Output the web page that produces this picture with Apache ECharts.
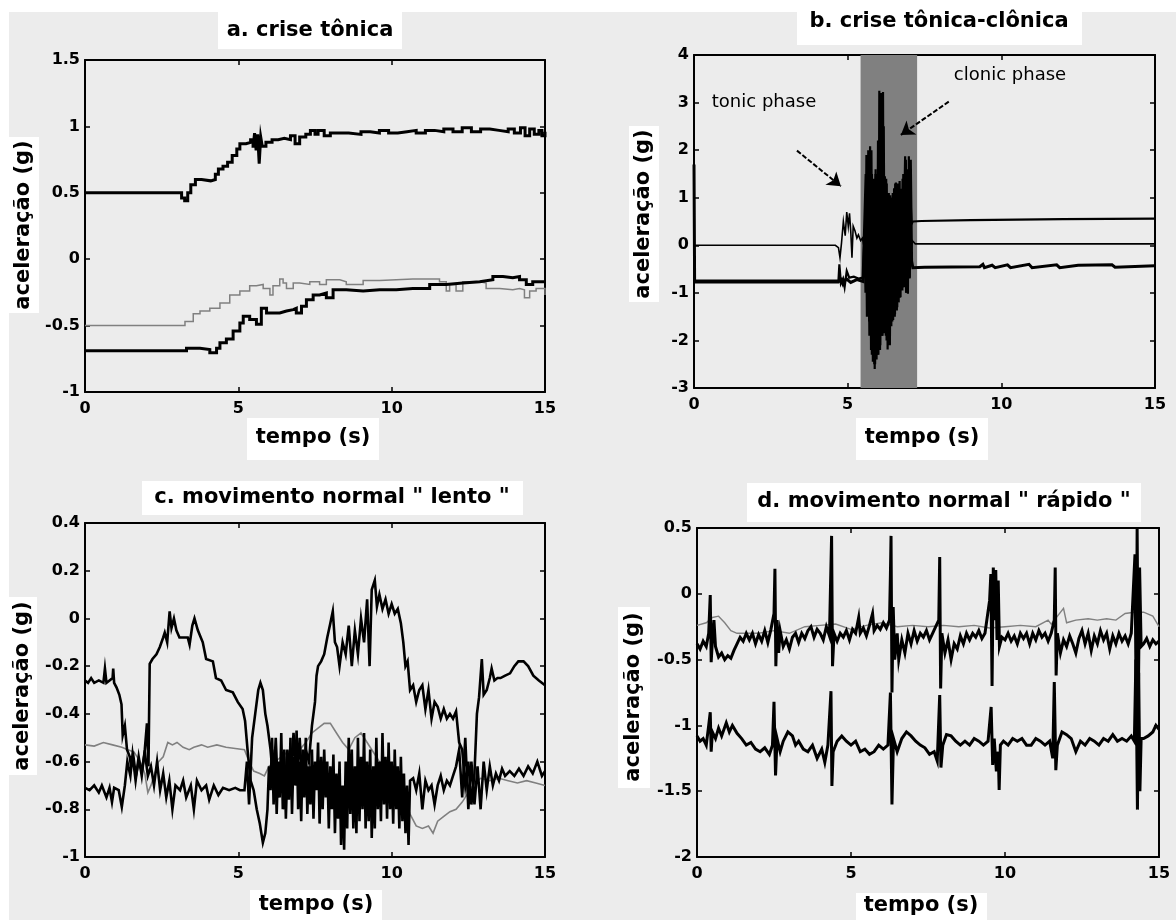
<!DOCTYPE html>
<html>
<head>
<meta charset="utf-8">
<script src="https://cdn.jsdelivr.net/npm/echarts/dist/echarts.min.js"></script>
<style>html,body{margin:0;padding:0;background:#fff}#c{width:1176px;height:920px}</style>
</head>
<body>
<div id="c"></div>
<script>
// ---------- tick labels ----------
const xTicks = [0, 5, 10, 15];
const yTicksA = [-1, -0.5, 0, 0.5, 1, 1.5];
const yTicksB = [-3, -2, -1, 0, 1, 2, 3, 4];
const yTicksC = [-1, -0.8, -0.6, -0.4, -0.2, 0, 0.2, 0.4];
const yTicksD = [-2, -1.5, -1, -0.5, 0, 0.5];

// ---------- texts ----------
const titles = ['a. crise tônica', 'b. crise tônica-clônica', 'c. movimento normal " lento "', 'd. movimento normal " rápido "'];
const xName = 'tempo (s)';
const yName = 'aceleração (g)';
const annTonic = 'tonic phase';
const annClonic = 'clonic phase';

// ---------- panel a: [tempo, aceleração] ----------
const aTop = [[0,0.5],[1.5,0.5],[3.05,0.5],[3.15,0.46],[3.25,0.44],[3.35,0.5],[3.45,0.56],[3.6,0.6],[3.8,0.59],[4.1,0.6],[4.25,0.64],[4.35,0.68],[4.5,0.7],[4.65,0.73],[4.8,0.78],[4.95,0.83],[5.05,0.87],[5.25,0.88],[5.4,0.9],[5.48,0.84],[5.53,0.95],[5.58,0.82],[5.63,0.94],[5.68,0.72],[5.73,0.92],[5.78,0.85],[5.9,0.88],[6.1,0.9],[6.3,0.91],[6.5,0.9],[6.7,0.93],[6.85,0.87],[7.0,0.92],[7.2,0.94],[7.35,0.97],[7.5,0.94],[7.6,0.97],[7.8,0.93],[8.0,0.95],[8.3,0.95],[8.6,0.94],[9.0,0.96],[9.3,0.95],[9.6,0.97],[9.9,0.95],[10.2,0.96],[10.5,0.97],[10.8,0.95],[11.1,0.97],[11.4,0.96],[11.7,0.98],[12.0,0.96],[12.3,0.99],[12.6,0.96],[12.9,0.98],[13.2,0.97],[13.5,0.96],[13.8,0.98],[14.0,0.95],[14.2,0.99],[14.35,0.93],[14.5,0.98],[14.65,0.94],[14.8,0.97],[14.9,0.93],[15,0.96]];
const aMid = [[0,-0.5],[3.1,-0.5],[3.26,-0.47],[3.53,-0.41],[3.75,-0.39],[4.07,-0.37],[4.4,-0.33],[4.72,-0.27],[5.05,-0.24],[5.37,-0.2],[5.59,-0.19],[5.81,-0.22],[6.03,-0.27],[6.13,-0.2],[6.35,-0.15],[6.46,-0.18],[6.57,-0.22],[6.79,-0.18],[7.0,-0.19],[7.33,-0.17],[7.65,-0.19],[7.87,-0.155],[8.31,-0.17],[8.52,-0.19],[9.07,-0.16],[9.61,-0.155],[10.15,-0.15],[10.69,-0.15],[11.24,-0.15],[11.56,-0.17],[11.78,-0.24],[11.89,-0.19],[12.1,-0.24],[12.32,-0.17],[12.87,-0.18],[13.08,-0.22],[13.52,-0.23],[13.95,-0.22],[14.17,-0.23],[14.33,-0.29],[14.5,-0.24],[14.71,-0.22],[15,-0.27]];
const aLow = [[0,-0.69],[3.1,-0.69],[3.31,-0.67],[3.75,-0.68],[4.07,-0.705],[4.29,-0.67],[4.4,-0.63],[4.61,-0.6],[4.83,-0.54],[5.05,-0.48],[5.16,-0.43],[5.37,-0.455],[5.59,-0.49],[5.75,-0.37],[5.92,-0.405],[6.13,-0.405],[6.35,-0.39],[6.57,-0.38],[6.79,-0.37],[6.89,-0.405],[7.06,-0.355],[7.22,-0.305],[7.44,-0.27],[7.65,-0.255],[7.87,-0.29],[8.09,-0.23],[8.52,-0.24],[9.07,-0.23],[9.61,-0.23],[10.15,-0.22],[10.69,-0.22],[11.24,-0.19],[11.78,-0.18],[12.32,-0.17],[12.87,-0.155],[13.3,-0.13],[13.63,-0.14],[13.95,-0.13],[14.17,-0.155],[14.39,-0.19],[14.6,-0.17],[15,-0.175]];

// ---------- panel b ----------
const bShade = [5.42, 7.26];
const bArrowTonic = [[3.35, 1.99], [4.78, 1.24]];
const bArrowClonic = [[8.29, 3.02], [6.73, 2.32]];
const bZero = [[0,0],[4.6,0],[4.7,-0.05],[4.75,-0.26],[4.8,0.05],[4.86,0.5],[4.92,0.2],[4.97,0.7],[5.02,0.4],[5.06,0.67],[5.1,0.3],[5.14,-0.26],[5.18,0.4],[5.24,0.3],[5.3,0.15],[5.35,0.22],[5.42,0.1],[5.48,0.15],[5.52,0.01],[5.56,0.2],[5.62,-0.5],[5.68,0.8],[5.74,-0.9],[5.8,1.0],[5.86,-1.2],[5.92,0.9],[5.98,-1.0],[6.04,1.5],[6.1,-1.2],[6.16,1.3],[6.22,-1.0],[6.28,0.9],[6.34,-1.1],[6.4,0.8],[6.46,-0.9],[6.52,0.9],[6.58,-0.8],[6.64,1.0],[6.7,-0.7],[6.76,0.9],[6.82,-0.6],[6.88,1.2],[6.94,-0.5],[7.0,1.0],[7.06,-0.2],[7.1,0.1],[7.2,0.03],[9,0.03],[12,0.03],[15,0.03]];
const bHigh = [[0,-0.74],[4.7,-0.74],[4.73,-0.4],[4.78,-0.8],[4.85,-0.7],[4.9,-0.88],[4.97,-0.54],[5.05,-0.68],[5.2,-0.66],[5.35,-0.7],[5.5,-0.68],[5.55,0.3],[5.58,-1.0],[5.61,1.9],[5.64,-1.3],[5.67,2.0],[5.7,-1.6],[5.73,2.08],[5.76,-2.2],[5.79,1.5],[5.82,-2.45],[5.85,1.4],[5.88,-2.6],[5.91,1.6],[5.94,-2.4],[5.97,1.2],[6.0,-2.3],[6.03,3.25],[6.06,-2.1],[6.09,3.2],[6.12,-1.9],[6.15,3.22],[6.18,-1.85],[6.21,1.45],[6.24,-1.9],[6.27,1.3],[6.3,-2.19],[6.33,1.1],[6.36,-1.95],[6.39,1.05],[6.42,-1.7],[6.45,1.0],[6.48,-1.57],[6.51,1.2],[6.54,-1.45],[6.57,1.32],[6.6,-1.37],[6.63,1.3],[6.66,-1.2],[6.69,1.35],[6.72,-1.09],[6.75,1.19],[6.78,-0.95],[6.81,1.5],[6.84,-0.88],[6.87,1.87],[6.9,-1.0],[6.93,1.6],[6.96,-1.02],[6.99,1.87],[7.02,-0.68],[7.05,0.9],[7.08,0.45],[7.12,0.5],[7.4,0.51],[9,0.53],[12,0.55],[15,0.56]];
const bLow = [[0,1.7],[0.02,-0.77],[4.7,-0.77],[4.78,-0.72],[4.85,-0.82],[4.95,-0.7],[5.1,-0.78],[5.3,-0.72],[5.5,-0.76],[5.56,-0.8],[5.6,1.5],[5.64,-1.5],[5.68,1.8],[5.72,-1.9],[5.76,2.0],[5.8,-2.3],[5.84,1.3],[5.88,-2.5],[5.92,1.5],[5.96,-2.3],[6.0,2.2],[6.04,-2.2],[6.08,3.0],[6.12,-1.9],[6.16,2.5],[6.2,-1.8],[6.24,1.4],[6.28,-2.0],[6.32,1.1],[6.36,-2.1],[6.4,1.0],[6.44,-1.6],[6.48,1.1],[6.52,-1.5],[6.56,1.3],[6.6,-1.3],[6.64,1.2],[6.68,-1.1],[6.72,1.1],[6.76,-0.9],[6.8,1.4],[6.84,-0.85],[6.88,1.8],[6.92,-1.0],[6.96,1.5],[7.0,-0.7],[7.04,1.8],[7.08,-0.33],[7.12,-0.47],[7.5,-0.46],[9.3,-0.45],[9.4,-0.4],[9.45,-0.47],[9.7,-0.42],[9.8,-0.47],[10.2,-0.41],[10.3,-0.47],[10.9,-0.4],[11.0,-0.47],[11.8,-0.41],[11.9,-0.47],[12.5,-0.42],[13.6,-0.41],[13.7,-0.46],[15,-0.43]];

// ---------- panel c ----------
const cTop = [[0,-0.26],[0.1,-0.27],[0.2,-0.25],[0.3,-0.27],[0.45,-0.26],[0.6,-0.27],[0.65,-0.21],[0.7,-0.27],[0.8,-0.26],[0.9,-0.25],[0.92,-0.21],[0.95,-0.27],[1.03,-0.29],[1.12,-0.32],[1.19,-0.36],[1.23,-0.49],[1.3,-0.45],[1.37,-0.55],[1.46,-0.58],[1.5,-0.62],[1.58,-0.58],[1.66,-0.66],[1.75,-0.6],[1.85,-0.64],[1.95,-0.56],[2.05,-0.66],[2.15,-0.62],[2.25,-0.7],[2.35,-0.6],[2.45,-0.72],[2.55,-0.65],[2.65,-0.75],[2.75,-0.68],[2.85,-0.8],[2.95,-0.7],[3.1,-0.72],[3.2,-0.68],[3.3,-0.75],[3.45,-0.7],[3.55,-0.8],[3.65,-0.68],[3.8,-0.72],[3.95,-0.7],[4.05,-0.76],[4.2,-0.7],[4.35,-0.74],[4.5,-0.71],[4.7,-0.72],[4.9,-0.71],[5.05,-0.72],[5.2,-0.72],[5.28,-0.6],[5.35,-0.78],[5.45,-0.5],[5.55,-0.4],[5.65,-0.3],[5.72,-0.27],[5.8,-0.3],[5.88,-0.4],[5.95,-0.45],[6.05,-0.55],[6.15,-0.7],[6.22,-0.5],[6.3,-0.75],[6.4,-0.6],[6.5,-0.8],[6.6,-0.55],[6.7,-0.7],[6.8,-0.48],[6.9,-0.7],[7.0,-0.5],[7.1,-0.72],[7.2,-0.55],[7.3,-0.6],[7.4,-0.45],[7.5,-0.35],[7.55,-0.24],[7.6,-0.2],[7.7,-0.18],[7.8,-0.15],[7.9,-0.08],[8.0,-0.02],[8.08,0.03],[8.15,-0.1],[8.22,-0.12],[8.3,-0.2],[8.4,-0.1],[8.5,-0.15],[8.6,-0.03],[8.7,-0.2],[8.8,-0.05],[8.9,-0.15],[9.0,0.0],[9.1,-0.1],[9.2,0.08],[9.28,-0.2],[9.35,0.12],[9.45,0.16],[9.52,0.05],[9.6,0.1],[9.7,0.04],[9.8,0.08],[9.9,0.02],[10.0,0.06],[10.1,0.02],[10.2,0.04],[10.3,-0.02],[10.38,-0.1],[10.45,-0.2],[10.52,-0.18],[10.6,-0.3],[10.7,-0.28],[10.8,-0.35],[10.9,-0.3],[11.0,-0.28],[11.1,-0.38],[11.2,-0.3],[11.3,-0.42],[11.4,-0.35],[11.5,-0.37],[11.6,-0.42],[11.7,-0.38],[11.8,-0.42],[11.9,-0.4],[12.0,-0.42],[12.1,-0.39],[12.2,-0.52],[12.3,-0.55],[12.4,-0.7],[12.5,-0.6],[12.6,-0.78],[12.7,-0.65],[12.78,-0.4],[12.85,-0.33],[12.94,-0.17],[13.0,-0.32],[13.1,-0.3],[13.2,-0.25],[13.26,-0.21],[13.35,-0.26],[13.45,-0.25],[13.55,-0.25],[13.7,-0.24],[13.86,-0.23],[14.0,-0.2],[14.13,-0.18],[14.3,-0.18],[14.45,-0.2],[14.62,-0.24],[14.8,-0.26],[15,-0.28]];
const cMid = [[0,-0.53],[0.3,-0.535],[0.6,-0.52],[0.9,-0.53],[1.2,-0.54],[1.4,-0.55],[1.6,-0.56],[1.8,-0.6],[1.95,-0.65],[2.05,-0.73],[2.15,-0.7],[2.25,-0.66],[2.4,-0.6],[2.55,-0.58],[2.7,-0.52],[2.85,-0.53],[3.0,-0.52],[3.2,-0.54],[3.4,-0.55],[3.55,-0.54],[3.8,-0.53],[4.0,-0.54],[4.3,-0.53],[4.6,-0.54],[4.9,-0.545],[5.2,-0.55],[5.35,-0.6],[5.5,-0.64],[5.7,-0.65],[5.85,-0.66],[6.0,-0.62],[6.2,-0.6],[6.4,-0.58],[6.6,-0.56],[6.8,-0.55],[7.0,-0.55],[7.2,-0.52],[7.4,-0.48],[7.6,-0.46],[7.8,-0.44],[8.0,-0.44],[8.2,-0.48],[8.4,-0.52],[8.6,-0.55],[8.8,-0.5],[9.0,-0.48],[9.2,-0.52],[9.4,-0.56],[9.6,-0.6],[9.8,-0.62],[10.0,-0.65],[10.2,-0.68],[10.4,-0.75],[10.6,-0.82],[10.8,-0.87],[11.0,-0.88],[11.2,-0.87],[11.35,-0.9],[11.5,-0.85],[11.7,-0.83],[11.9,-0.81],[12.1,-0.8],[12.3,-0.77],[12.5,-0.73],[12.7,-0.69],[12.9,-0.67],[13.2,-0.68],[13.5,-0.67],[13.8,-0.68],[14.1,-0.69],[14.4,-0.68],[14.7,-0.69],[15,-0.7]];
const cLow = [[0,-0.71],[0.15,-0.72],[0.3,-0.7],[0.45,-0.73],[0.55,-0.7],[0.7,-0.75],[0.8,-0.71],[0.88,-0.77],[0.95,-0.71],[1.1,-0.72],[1.2,-0.79],[1.3,-0.7],[1.38,-0.6],[1.48,-0.66],[1.55,-0.57],[1.65,-0.68],[1.75,-0.58],[1.85,-0.66],[1.95,-0.55],[2.02,-0.44],[2.07,-0.62],[2.11,-0.19],[2.2,-0.17],[2.33,-0.15],[2.44,-0.12],[2.55,-0.08],[2.6,-0.06],[2.68,-0.1],[2.76,0.03],[2.82,-0.04],[2.9,0.0],[2.98,-0.05],[3.08,-0.08],[3.2,-0.08],[3.35,-0.08],[3.41,-0.11],[3.5,-0.03],[3.57,0.0],[3.68,-0.05],[3.84,-0.1],[3.95,-0.17],[4.17,-0.18],[4.27,-0.25],[4.44,-0.26],[4.6,-0.3],[4.82,-0.31],[4.98,-0.35],[5.14,-0.38],[5.22,-0.43],[5.3,-0.55],[5.4,-0.68],[5.5,-0.72],[5.6,-0.8],[5.7,-0.86],[5.8,-0.94],[5.88,-0.9],[5.95,-0.8],[6.0,-0.62],[6.05,-0.72],[6.1,-0.5],[6.15,-0.78],[6.2,-0.55],[6.25,-0.82],[6.3,-0.6],[6.35,-0.75],[6.4,-0.48],[6.45,-0.8],[6.5,-0.55],[6.55,-0.84],[6.6,-0.62],[6.65,-0.76],[6.7,-0.5],[6.75,-0.82],[6.8,-0.58],[6.85,-0.7],[6.9,-0.47],[6.95,-0.8],[7.0,-0.6],[7.05,-0.85],[7.1,-0.55],[7.15,-0.75],[7.2,-0.5],[7.25,-0.82],[7.3,-0.62],[7.35,-0.78],[7.4,-0.55],[7.45,-0.84],[7.5,-0.6],[7.55,-0.72],[7.6,-0.52],[7.65,-0.86],[7.7,-0.58],[7.75,-0.8],[7.8,-0.55],[7.85,-0.75],[7.9,-0.6],[7.95,-0.88],[8.0,-0.62],[8.05,-0.8],[8.1,-0.57],[8.15,-0.9],[8.2,-0.65],[8.25,-0.84],[8.3,-0.6],[8.35,-0.95],[8.4,-0.7],[8.45,-0.97],[8.5,-0.6],[8.55,-0.88],[8.6,-0.5],[8.65,-0.82],[8.7,-0.55],[8.75,-0.88],[8.8,-0.62],[8.85,-0.9],[8.9,-0.5],[8.95,-0.85],[9.0,-0.58],[9.05,-0.8],[9.1,-0.48],[9.15,-0.88],[9.2,-0.6],[9.25,-0.85],[9.3,-0.55],[9.35,-0.92],[9.4,-0.62],[9.45,-0.88],[9.5,-0.5],[9.55,-0.8],[9.6,-0.6],[9.65,-0.85],[9.7,-0.48],[9.75,-0.78],[9.8,-0.58],[9.85,-0.84],[9.9,-0.52],[9.95,-0.8],[10.0,-0.6],[10.05,-0.86],[10.1,-0.55],[10.15,-0.8],[10.2,-0.62],[10.25,-0.88],[10.3,-0.58],[10.35,-0.85],[10.4,-0.65],[10.45,-0.9],[10.5,-0.7],[10.55,-0.95],[10.6,-0.68],[10.7,-0.67],[10.8,-0.72],[10.9,-0.65],[11.0,-0.8],[11.1,-0.68],[11.2,-0.72],[11.3,-0.7],[11.4,-0.78],[11.5,-0.7],[11.6,-0.66],[11.7,-0.72],[11.8,-0.68],[11.9,-0.7],[12.0,-0.66],[12.1,-0.62],[12.2,-0.55],[12.3,-0.75],[12.4,-0.5],[12.5,-0.8],[12.6,-0.6],[12.7,-0.78],[12.8,-0.62],[12.9,-0.8],[13.0,-0.6],[13.1,-0.72],[13.2,-0.62],[13.3,-0.7],[13.4,-0.65],[13.5,-0.68],[13.6,-0.63],[13.7,-0.66],[13.85,-0.64],[14.0,-0.66],[14.15,-0.63],[14.3,-0.66],[14.45,-0.62],[14.6,-0.65],[14.75,-0.6],[14.9,-0.66],[15,-0.64]];

// ---------- panel d ----------
const dGray = [[0,-0.24],[0.3,-0.22],[0.5,-0.18],[0.7,-0.17],[0.9,-0.22],[1.1,-0.28],[1.3,-0.3],[1.6,-0.3],[2.0,-0.3],[2.5,-0.28],[3.0,-0.3],[3.5,-0.25],[4.0,-0.24],[4.5,-0.23],[5.0,-0.27],[5.5,-0.24],[6.0,-0.22],[6.5,-0.25],[7.0,-0.24],[7.5,-0.25],[8.0,-0.24],[8.5,-0.25],[9.0,-0.24],[9.5,-0.26],[10.0,-0.25],[10.5,-0.24],[11.0,-0.25],[11.4,-0.2],[11.5,-0.23],[11.9,-0.11],[12.0,-0.22],[12.3,-0.2],[12.7,-0.19],[13.0,-0.2],[13.3,-0.19],[13.6,-0.2],[13.9,-0.15],[14.2,-0.14],[14.5,-0.14],[14.8,-0.17],[15,-0.25]];
const dUp = [[0,-0.38],[0.1,-0.42],[0.2,-0.36],[0.3,-0.4],[0.38,-0.3],[0.43,-0.01],[0.46,-0.52],[0.5,-0.35],[0.55,-0.2],[0.6,-0.4],[0.7,-0.48],[0.8,-0.45],[0.9,-0.5],[1.0,-0.47],[1.1,-0.49],[1.2,-0.43],[1.3,-0.38],[1.4,-0.33],[1.5,-0.36],[1.6,-0.3],[1.7,-0.35],[1.8,-0.3],[1.9,-0.38],[2.0,-0.31],[2.1,-0.36],[2.2,-0.28],[2.3,-0.37],[2.4,-0.27],[2.5,-0.15],[2.53,0.19],[2.56,-0.55],[2.6,-0.2],[2.65,-0.45],[2.7,-0.28],[2.8,-0.4],[2.9,-0.35],[3.0,-0.42],[3.1,-0.33],[3.2,-0.3],[3.3,-0.37],[3.4,-0.3],[3.5,-0.34],[3.6,-0.28],[3.7,-0.25],[3.8,-0.33],[3.9,-0.27],[4.0,-0.3],[4.1,-0.35],[4.2,-0.25],[4.3,-0.32],[4.37,0.44],[4.4,-0.55],[4.45,-0.3],[4.55,-0.36],[4.65,-0.3],[4.75,-0.33],[4.85,-0.28],[4.95,-0.35],[5.05,-0.27],[5.15,-0.3],[5.25,-0.18],[5.3,-0.3],[5.4,-0.26],[5.5,-0.32],[5.6,-0.24],[5.7,-0.15],[5.75,-0.28],[5.85,-0.24],[5.95,-0.27],[6.05,-0.22],[6.15,-0.26],[6.25,-0.2],[6.28,0.15],[6.3,0.44],[6.33,-0.75],[6.37,-0.1],[6.42,-0.5],[6.5,-0.3],[6.55,-0.5],[6.65,-0.35],[6.75,-0.45],[6.85,-0.3],[6.95,-0.38],[7.05,-0.28],[7.15,-0.36],[7.25,-0.3],[7.35,-0.33],[7.45,-0.28],[7.55,-0.35],[7.65,-0.3],[7.75,-0.25],[7.85,-0.2],[7.88,0.28],[7.91,-0.72],[7.95,-0.3],[8.05,-0.45],[8.15,-0.35],[8.25,-0.5],[8.35,-0.38],[8.45,-0.42],[8.55,-0.32],[8.65,-0.38],[8.75,-0.3],[8.85,-0.35],[8.95,-0.3],[9.05,-0.33],[9.15,-0.28],[9.25,-0.34],[9.35,-0.3],[9.5,-0.05],[9.54,0.15],[9.58,-0.7],[9.62,0.2],[9.66,-0.2],[9.7,0.18],[9.74,-0.35],[9.78,0.1],[9.82,-0.4],[9.9,-0.33],[10.0,-0.35],[10.1,-0.3],[10.2,-0.36],[10.3,-0.32],[10.4,-0.38],[10.5,-0.3],[10.6,-0.34],[10.7,-0.3],[10.8,-0.38],[10.9,-0.3],[11.0,-0.35],[11.1,-0.28],[11.2,-0.33],[11.3,-0.3],[11.4,-0.36],[11.5,-0.3],[11.6,-0.2],[11.63,0.2],[11.66,-0.62],[11.7,-0.3],[11.8,-0.45],[11.9,-0.35],[12.0,-0.4],[12.1,-0.32],[12.2,-0.38],[12.3,-0.45],[12.4,-0.34],[12.5,-0.28],[12.6,-0.38],[12.7,-0.3],[12.8,-0.43],[12.9,-0.32],[13.0,-0.38],[13.1,-0.28],[13.2,-0.35],[13.3,-0.3],[13.4,-0.42],[13.5,-0.32],[13.6,-0.38],[13.7,-0.3],[13.8,-0.36],[13.9,-0.32],[14.0,-0.38],[14.1,-0.3],[14.22,0.3],[14.26,-0.9],[14.29,0.5],[14.33,-0.8],[14.37,0.2],[14.42,-0.4],[14.5,-0.38],[14.6,-0.34],[14.7,-0.4],[14.8,-0.35],[14.9,-0.38],[15,-0.36]];
const dLow = [[0,-1.08],[0.1,-1.12],[0.2,-1.1],[0.3,-1.15],[0.38,-1.0],[0.43,-0.9],[0.46,-1.2],[0.5,-1.05],[0.6,-1.1],[0.7,-1.02],[0.8,-1.08],[0.95,-0.98],[1.05,-1.05],[1.15,-1.0],[1.3,-1.06],[1.45,-1.1],[1.6,-1.15],[1.75,-1.13],[1.9,-1.18],[2.05,-1.2],[2.2,-1.17],[2.35,-1.22],[2.45,-1.15],[2.5,-0.82],[2.55,-1.38],[2.6,-1.1],[2.7,-1.2],[2.8,-1.12],[2.95,-1.05],[3.1,-1.08],[3.2,-1.15],[3.3,-1.12],[3.45,-1.18],[3.6,-1.2],[3.75,-1.15],[3.9,-1.25],[4.05,-1.18],[4.15,-1.28],[4.25,-1.15],[4.35,-0.74],[4.38,-1.46],[4.42,-1.2],[4.55,-1.12],[4.7,-1.08],[4.85,-1.12],[5.0,-1.15],[5.15,-1.12],[5.3,-1.2],[5.45,-1.18],[5.6,-1.22],[5.75,-1.2],[5.9,-1.15],[6.05,-1.18],[6.2,-1.15],[6.28,-0.75],[6.33,-1.6],[6.38,-1.1],[6.5,-1.2],[6.65,-1.1],[6.8,-1.05],[6.95,-1.08],[7.1,-1.12],[7.25,-1.15],[7.4,-1.17],[7.55,-1.22],[7.7,-1.2],[7.8,-1.27],[7.88,-0.77],[7.92,-1.32],[7.98,-1.15],[8.1,-1.07],[8.25,-1.08],[8.4,-1.12],[8.55,-1.15],[8.7,-1.12],[8.85,-1.15],[9.0,-1.1],[9.15,-1.12],[9.3,-1.15],[9.45,-1.12],[9.55,-0.86],[9.6,-1.3],[9.65,-1.1],[9.72,-1.35],[9.78,-1.2],[9.81,-1.49],[9.85,-1.15],[9.95,-1.12],[10.1,-1.15],[10.25,-1.1],[10.4,-1.12],[10.55,-1.1],[10.7,-1.15],[10.85,-1.15],[11.0,-1.1],[11.15,-1.12],[11.3,-1.15],[11.45,-1.12],[11.55,-1.25],[11.6,-0.67],[11.65,-1.34],[11.7,-1.15],[11.85,-1.05],[12.0,-1.07],[12.15,-1.1],[12.3,-1.2],[12.45,-1.12],[12.6,-1.15],[12.75,-1.1],[12.9,-1.12],[13.05,-1.15],[13.2,-1.1],[13.35,-1.12],[13.5,-1.07],[13.65,-1.12],[13.8,-1.1],[13.95,-1.12],[14.1,-1.08],[14.2,-1.12],[14.25,-0.5],[14.3,-1.64],[14.34,-0.6],[14.38,-1.5],[14.42,-1.1],[14.5,-1.1],[14.65,-1.08],[14.8,-1.05],[14.9,-1.0],[15,-1.03]];

// ---------- layout ----------
const grids = [
  {left: 85, top: 60, width: 460, height: 332},
  {left: 694, top: 55, width: 461, height: 333},
  {left: 85, top: 523, width: 460, height: 334},
  {left: 697, top: 528, width: 462, height: 329}
];
const yTicks = [yTicksA, yTicksB, yTicksC, yTicksD];
const BLACK = '#000', GRAY = '#808080';
const tickFont = {fontFamily: 'DejaVu Sans', fontWeight: 'bold', fontSize: 16, color: '#000'};
const fmt = v => String(+(+v).toFixed(2));

const xAxes = [], yAxes = [];
['bottom', 'top'].forEach(pos => {
  grids.forEach((g, i) => {
    xAxes.push({
      type: 'value', gridIndex: i, position: pos,
      min: xTicks[0], max: xTicks[xTicks.length - 1], interval: xTicks[1] - xTicks[0],
      axisLine: {show: true, onZero: false, lineStyle: {color: BLACK, width: 2}},
      axisTick: {show: true, inside: true, length: 5, lineStyle: {color: BLACK, width: 1.5}},
      axisLabel: Object.assign({show: pos === 'bottom', margin: 9, formatter: fmt}, tickFont),
      splitLine: {show: false}
    });
  });
});
['left', 'right'].forEach(pos => {
  grids.forEach((g, i) => {
    const t = yTicks[i];
    yAxes.push({
      type: 'value', gridIndex: i, position: pos,
      min: t[0], max: t[t.length - 1], interval: +(t[1] - t[0]).toFixed(2),
      axisLine: {show: true, onZero: false, lineStyle: {color: BLACK, width: 2}},
      axisTick: {show: true, inside: true, length: 5, lineStyle: {color: BLACK, width: 1.5}},
      axisLabel: Object.assign({show: pos === 'left', margin: 5, formatter: fmt}, tickFont),
      splitLine: {show: false}
    });
  });
});

function line(gi, data, color, width, step) {
  return {
    type: 'line', xAxisIndex: gi, yAxisIndex: gi, data: data,
    showSymbol: false, symbol: 'none', silent: true, animation: false,
    step: step || false,
    lineStyle: {color: color, width: width, join: 'miter'}, itemStyle: {color: color},
    z: 3, clip: true
  };
}

const series = [
  line(0, aMid, GRAY, 1.5, 'end'), line(0, aLow, BLACK, 3, 'end'), line(0, aTop, BLACK, 3, 'end'),
  {
    type: 'line', xAxisIndex: 1, yAxisIndex: 1, data: [[bShade[0], 0]], showSymbol: false, symbol: 'none',
    lineStyle: {width: 0, opacity: 0}, silent: true, animation: false, z: 1,
    markArea: {silent: true, itemStyle: {color: '#808080', opacity: 1}, data: [[{xAxis: bShade[0]}, {xAxis: bShade[1]}]]},
    markLine: {
      silent: true, symbol: ['none', 'arrow'], symbolSize: 13, animation: false,
      lineStyle: {color: BLACK, width: 2, type: [5, 2]}, label: {show: false},
      data: [
        [{coord: bArrowTonic[0]}, {coord: bArrowTonic[1]}],
        [{coord: bArrowClonic[0]}, {coord: bArrowClonic[1]}]
      ]
    }
  },
  line(1, bZero, BLACK, 1.6), line(1, bHigh, BLACK, 2.2), line(1, bLow, BLACK, 3),
  line(2, cMid, GRAY, 1.6), line(2, cLow, BLACK, 2.6), line(2, cTop, BLACK, 2.6),
  line(3, dGray, GRAY, 1.4), line(3, dLow, BLACK, 3), line(3, dUp, BLACK, 3)
];

// label boxes: [x, y, w, h], text centre [cx, cy]
const titleFont = 'bold 21px "DejaVu Sans"';
const labelFont = 'bold 21px "DejaVu Sans"';
const boxes = [
  {r: [218, 12, 184, 37], c: [310, 31], t: titles[0], f: titleFont, rot: 0},
  {r: [797, 0, 285, 45], c: [939, 22], t: titles[1], f: titleFont, rot: 0},
  {r: [142, 481, 381, 34], c: [332, 498], t: titles[2], f: titleFont, rot: 0},
  {r: [747, 483, 394, 39], c: [944, 502], t: titles[3], f: titleFont, rot: 0},
  {r: [9, 137, 30, 176], c: [24, 225], t: yName, f: labelFont, rot: Math.PI / 2},
  {r: [247, 418, 132, 42], c: [313, 438], t: xName, f: labelFont, rot: 0},
  {r: [629, 126, 30, 176], c: [644, 214], t: yName, f: labelFont, rot: Math.PI / 2},
  {r: [856, 418, 132, 42], c: [922, 438], t: xName, f: labelFont, rot: 0},
  {r: [9, 597, 28, 178], c: [23, 686], t: yName, f: labelFont, rot: Math.PI / 2},
  {r: [250, 890, 132, 30], c: [316, 905], t: xName, f: labelFont, rot: 0},
  {r: [618, 607, 32, 181], c: [634, 697], t: yName, f: labelFont, rot: Math.PI / 2},
  {r: [856, 893, 131, 27], c: [921, 906], t: xName, f: labelFont, rot: 0}
];

const graphic = [
  {type: 'rect', shape: {x: 0, y: 0, width: 1176, height: 12}, style: {fill: '#fff'}, z: -1, silent: true},
  {type: 'rect', shape: {x: 0, y: 0, width: 9, height: 920}, style: {fill: '#fff'}, z: -1, silent: true}
];
boxes.forEach(b => {
  graphic.push({type: 'rect', shape: {x: b.r[0], y: b.r[1], width: b.r[2], height: b.r[3]}, style: {fill: '#fff'}, z: 5, silent: true});
  graphic.push({type: 'text', x: b.c[0], y: b.c[1], rotation: b.rot, z: 6, silent: true,
    style: {text: b.t, font: b.f, fill: '#000', align: 'center', verticalAlign: 'middle'}});
});
graphic.push({type: 'text', x: 764, y: 102, z: 6, silent: true, style: {text: annTonic, font: '18px "DejaVu Sans"', fill: '#000', align: 'center', verticalAlign: 'middle'}});
graphic.push({type: 'text', x: 1010, y: 75, z: 6, silent: true, style: {text: annClonic, font: '18px "DejaVu Sans"', fill: '#000', align: 'center', verticalAlign: 'middle'}});

const chart = echarts.init(document.getElementById('c'), null, {renderer: 'canvas'});
chart.setOption({
  backgroundColor: '#ececec',
  animation: false,
  grid: grids.map(g => Object.assign({containLabel: false}, g)),
  xAxis: xAxes,
  yAxis: yAxes,
  series: series,
  graphic: graphic
});
</script>
</body>
</html>
